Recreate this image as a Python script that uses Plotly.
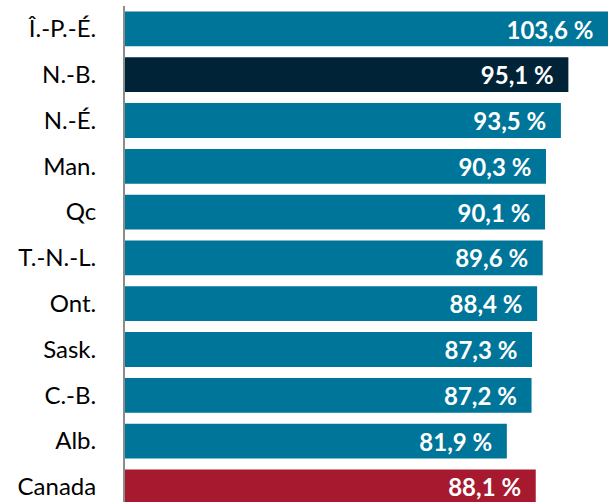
import plotly.graph_objects as go

categories = ["Î.-P.-É.", "N.-B.", "N.-É.", "Man.", "Qc", "T.-N.-L.", "Ont.", "Sask.", "C.-B.", "Alb.", "Canada"]
values = [103.6, 95.1, 93.5, 90.3, 90.1, 89.6, 88.4, 87.3, 87.2, 81.9, 88.1]
teal = "#00759A"
navy = "#002337"
red = "#A6192E"
colors = [teal, navy] + [teal] * 8 + [red]

fig = go.Figure(go.Bar(
    y=categories, x=values, orientation="h",
    marker=dict(color=colors, line=dict(width=0)),
    texttemplate="%{x:.1f} %\u00a0\u00a0",
    textposition="inside", insidetextanchor="end",
    textfont=dict(family="Lato", size=25, color="white", weight="bold"),
    cliponaxis=False,
))
fig.update_layout(
    width=608, height=502,
    margin=dict(l=125, r=0, t=6, b=0, autoexpand=False),
    paper_bgcolor="white", plot_bgcolor="white",
    separators=", ",
    bargap=0.24,
    showlegend=False,
    xaxis=dict(range=[0, 103.6], visible=False, automargin=False),
    yaxis=dict(
        type="category", range=[10.33, -0.5], automargin=False,
        showline=True, linecolor="#8c8c8c", linewidth=2,
        ticks="", ticklabelstandoff=22,
        tickfont=dict(family="Lato", size=24, color="black"),
        showgrid=False,
    ),
    uniformtext=dict(minsize=8, mode="show"),
)
fig.write_html("out.html", config={"displayModeBar": False},
               post_script="document.body.style.margin='0';document.body.style.overflow='hidden';")
